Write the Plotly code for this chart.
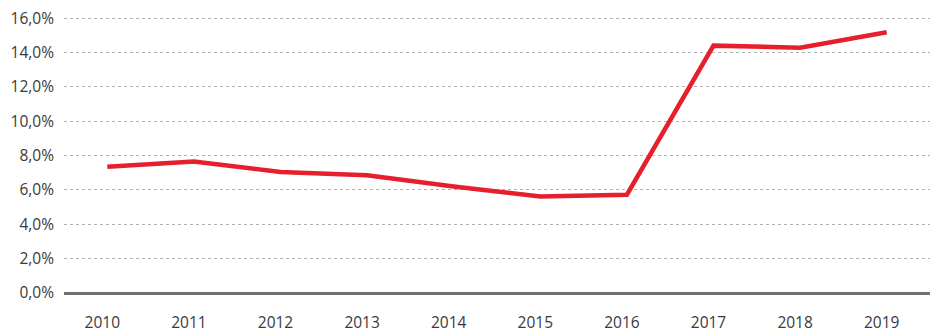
import plotly.graph_objects as go

years = ["2010", "2011", "2012", "2013", "2014", "2015", "2016", "2017", "2018", "2019"]
values = [7.35, 7.65, 7.05, 6.85, 6.2, 5.62, 5.72, 14.4, 14.28, 15.18]
y_ticks = [0, 2, 4, 6, 8, 10, 12, 14, 16]
y_tick_labels = ["0,0%", "2,0%", "4,0%", "6,0%", "8,0%", "10,0%", "12,0%", "14,0%", "16,0%"]

fig = go.Figure()
fig.add_trace(go.Scatter(
    x=years, y=values, mode="lines",
    line=dict(color="#e5202c", width=4.5),
    hoverinfo="skip",
))

# page body has an 8px margin; figure sized to fill the remaining viewport
fig.update_layout(
    width=931, height=328,
    margin=dict(l=56, r=9, t=5, b=43, autoexpand=False),
    paper_bgcolor="white", plot_bgcolor="white",
    showlegend=False,
    font=dict(family="Open Sans, sans-serif", size=15.5, color="#3a3a3a"),
)
fig.update_xaxes(
    type="category", range=[-0.5, 9.5], automargin=False,
    showgrid=False, zeroline=False, showline=False,
    ticks="", ticklabelshift=-5, ticklabelstandoff=18,
)
fig.update_yaxes(
    range=[0, 16.3], tickvals=y_ticks, ticktext=y_tick_labels, automargin=False,
    showgrid=True, gridcolor="#b0b0b0", griddash="dot", gridwidth=1,
    zeroline=True, zerolinecolor="#707070", zerolinewidth=2.5,
    showline=False, ticks="", ticklabelstandoff=9, ticklabeloverflow="allow",
)

fig.write_html("out.html")
